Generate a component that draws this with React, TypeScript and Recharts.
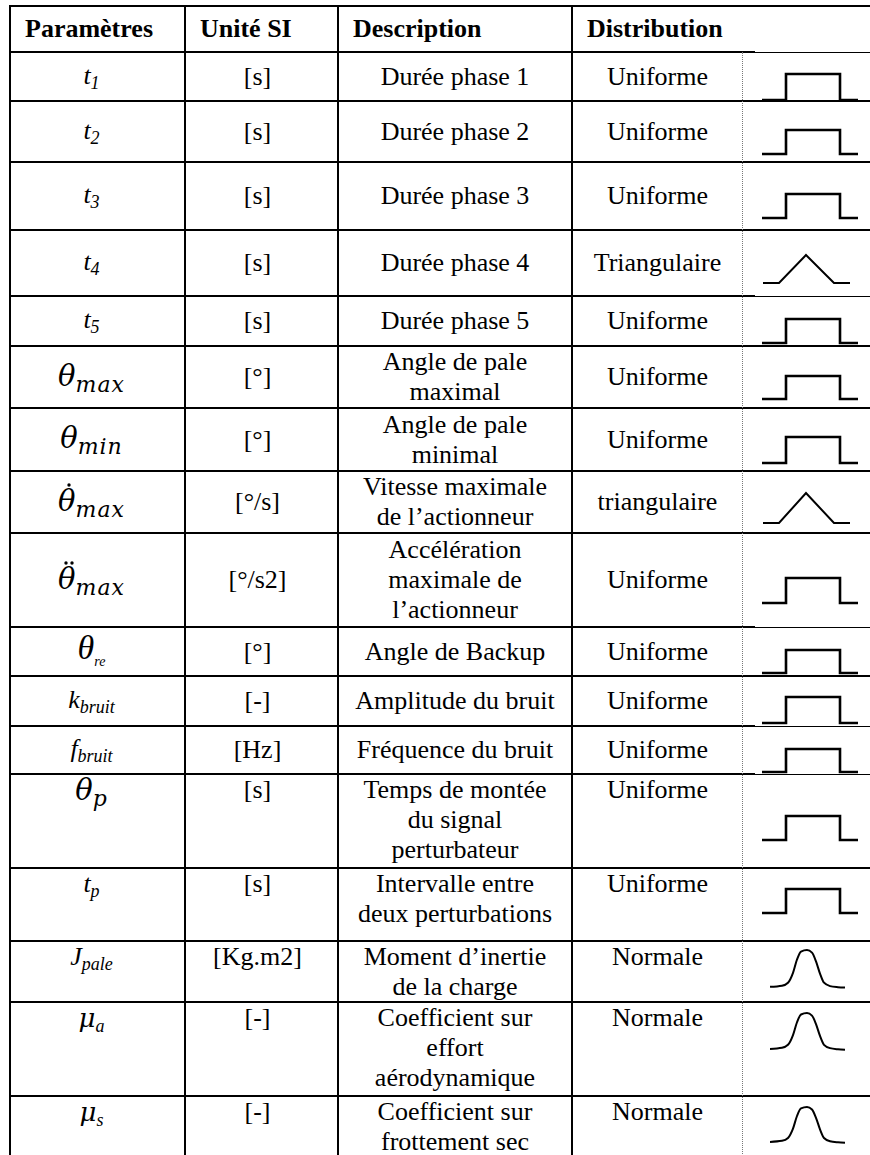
import React from 'react';
import { LineChart, Line, XAxis, YAxis } from 'recharts';

// ---------- DATA ----------
const headers = ['Paramètres', 'Unité SI', 'Description', 'Distribution'];

const symbolBase = ['t', 't', 't', 't', 't', 'θ', 'θ', 'θ', 'θ', 'θ', 'k', 'f', 'θ', 't', 'J', 'μ', 'μ'];
const symbolDots = [0, 0, 0, 0, 0, 0, 0, 1, 2, 0, 0, 0, 0, 0, 0, 0, 0];
const symbolSub = ['1', '2', '3', '4', '5', 'max', 'min', 'max', 'max', 're', 'bruit', 'bruit', 'p', 'p', 'pale', 'a', 's'];
const symbolKind = ['it', 'it', 'it', 'it', 'it', 'math', 'math', 'math', 'math', 'sym', 'it', 'it', 'math', 'it', 'it', 'greek', 'greek'];

const units = ['[s]', '[s]', '[s]', '[s]', '[s]', '[°]', '[°]', '[°/s]', '[°/s2]', '[°]', '[-]', '[Hz]', '[s]', '[s]', '[Kg.m2]', '[-]', '[-]'];

const descriptions: string[][] = [
  ['Durée phase 1'],
  ['Durée phase 2'],
  ['Durée phase 3'],
  ['Durée phase 4'],
  ['Durée phase 5'],
  ['Angle de pale', 'maximal'],
  ['Angle de pale', 'minimal'],
  ['Vitesse maximale', 'de l’actionneur'],
  ['Accélération', 'maximale de', 'l’actionneur'],
  ['Angle de Backup'],
  ['Amplitude du bruit'],
  ['Fréquence du bruit'],
  ['Temps de montée', 'du signal', 'perturbateur'],
  ['Intervalle entre', 'deux perturbations'],
  ['Moment d’inertie', 'de la charge'],
  ['Coefficient sur', 'effort', 'aérodynamique'],
  ['Coefficient sur', 'frottement sec'],
];

const distributions = ['Uniforme', 'Uniforme', 'Uniforme', 'Triangulaire', 'Uniforme', 'Uniforme', 'Uniforme', 'triangulaire', 'Uniforme', 'Uniforme', 'Uniforme', 'Uniforme', 'Uniforme', 'Uniforme', 'Normale', 'Normale', 'Normale'];

// shape samples for the small distribution sketches
const uniformX = [0, 24, 24, 78, 78, 96];
const uniformY = [0, 0, 1, 1, 0, 0];
const triangleX = [0, 16, 43, 71, 87];
const triangleY = [0, 0, 1, 0, 0];
const normalX = [0, 12, 18, 23, 27, 31, 37, 42, 46, 50, 54, 60, 68, 75];
const normalY = [0.03, 0.06, 0.14, 0.4, 0.75, 0.96, 1, 0.93, 0.7, 0.38, 0.14, 0.05, 0.02, 0.01];

// ---------- LAYOUT ----------
const FONT = "'Liberation Serif', 'Times New Roman', serif";
const rowEdges = [6, 52, 101, 162, 230, 296, 346, 408, 471, 533, 627, 676, 726, 774, 868, 941, 1002, 1096, 1160];
const rowAlign = ['c', 'c', 'c', 'c', 'c', 'c', 'c', 'c', 'c', 'c', 'c', 'c', 't', 't', 't', 't', 't'];
const thinRightEdges = [1, 5, 10, 12, 13];
const colEdges = [10, 185, 338, 572, 742, 870];
const iconTops = [74, 130, 194, 255, 319, 376, 437, 493, 578, 650, 697, 749, 816, 889, 950, 1013, 1107];
const iconBottoms = [100, 154, 218, 283, 343, 399, 463, 523, 603, 673, 723, 772, 840, 913, 988, 1050, 1143];

function Sketch({ kind, top, bottom }: { kind: string; top: number; bottom: number }) {
  let xs = uniformX, ys = uniformY, left = 762, sw = 2.6, curve: any = 'linear';
  if (kind === 'Triangulaire' || kind === 'triangulaire') { xs = triangleX; ys = triangleY; left = 763; sw = 2; }
  if (kind === 'Normale') { xs = normalX; ys = normalY; left = 770; sw = 2; curve = 'monotone'; }
  const data = xs.map((x, i) => ({ x, y: ys[i] }));
  const pad = 3;
  const w = xs[xs.length - 1];
  const h = bottom - top;
  return (
    <div style={{ position: 'absolute', left: left - pad, top: top - pad }}>
      <LineChart width={w + 2 * pad} height={h + 2 * pad} data={data} margin={{ top: pad, right: pad, bottom: pad, left: pad }}>
        <XAxis dataKey="x" type="number" domain={[0, w]} hide />
        <YAxis type="number" domain={[0, 1]} hide />
        <Line dataKey="y" type={curve} stroke="#000" strokeWidth={sw} dot={false} strokeLinejoin="miter" strokeLinecap="butt" isAnimationActive={false} />
      </LineChart>
    </div>
  );
}

function Dots({ n }: { n: number }) {
  if (!n) return null;
  const cx = n === 1 ? [10] : [7, 13];
  return (
    <svg width={18} height={6} style={{ position: 'absolute', left: 1, top: -4 }}>
      {cx.map((x) => <circle key={x} cx={x} cy={3} r={1.7} fill="#000" />)}
    </svg>
  );
}

function Sym({ i }: { i: number }) {
  const kind = symbolKind[i];
  const base = symbolBase[i];
  const sub = symbolSub[i];
  if (kind === 'math') {
    return (
      <span style={{ fontFamily: "'DejaVu Serif', serif", fontStyle: 'italic', fontSize: 29, whiteSpace: 'nowrap' }}>
        <span style={{ position: 'relative', display: 'inline-block' }}>
          {base}
          <Dots n={symbolDots[i]} />
        </span>
        <span style={{ fontSize: 22, position: 'relative', top: 6, letterSpacing: 1 }}>{sub}</span>
      </span>
    );
  }
  if (kind === 'sym') {
    return (
      <span style={{ fontFamily: FONT, fontStyle: 'italic', fontSize: 34, whiteSpace: 'nowrap' }}>
        {base}
        <span style={{ fontSize: 14, position: 'relative', top: 7 }}>{sub}</span>
      </span>
    );
  }
  if (kind === 'greek') {
    return (
      <span style={{ fontFamily: "'DejaVu Serif', serif", fontStyle: 'italic', fontSize: 26, whiteSpace: 'nowrap' }}>
        {base}
        <span style={{ fontFamily: FONT, fontSize: 18, position: 'relative', top: 5 }}>{sub}</span>
      </span>
    );
  }
  return (
    <span style={{ fontFamily: FONT, fontStyle: 'italic', fontSize: 26, whiteSpace: 'nowrap' }}>
      {base}
      <span style={{ fontSize: 18, position: 'relative', top: 5 }}>{sub}</span>
    </span>
  );
}

function Cell({ x0, x1, y0, y1, align, children, left }: any) {
  return (
    <div
      style={{
        position: 'absolute', left: x0, top: y0, width: x1 - x0, height: y1 - y0,
        display: 'flex', flexDirection: 'column',
        alignItems: left ? 'flex-start' : 'center',
        justifyContent: align === 't' ? 'flex-start' : 'center',
        paddingLeft: left ? 14 : 0, boxSizing: 'border-box',
        lineHeight: '30px', fontSize: 26, fontFamily: FONT, color: '#000',
      }}
    >
      {children}
    </div>
  );
}

export default function App() {
  const lines: React.ReactNode[] = [];
  const top = rowEdges[0];
  const bottom = rowEdges[rowEdges.length - 1];
  rowEdges.forEach((y, k) => {
    if (k === rowEdges.length - 1) return;
    const thin = thinRightEdges.includes(k);
    lines.push(<div key={'h' + k} style={{ position: 'absolute', left: 9, top: y - 1, width: (thin ? 755 : 870) - 9, height: 2, background: '#000' }} />);
    if (thin) lines.push(<div key={'ht' + k} style={{ position: 'absolute', left: 755, top: y, width: 115, height: 1, background: '#000' }} />);
  });
  colEdges.slice(0, 4).forEach((x, k) => {
    lines.push(<div key={'v' + k} style={{ position: 'absolute', left: x - 1, top: top - 1, width: 2, height: bottom - top + 1, background: '#000' }} />);
  });
  lines.push(<div key="dot" style={{ position: 'absolute', left: 742, top: rowEdges[1], width: 0, height: bottom - rowEdges[1], borderLeft: '1px dotted #777' }} />);

  const cells: React.ReactNode[] = [];
  headers.forEach((h, c) => {
    cells.push(
      <Cell key={'hd' + c} x0={colEdges[c] + 1} x1={c === 3 ? 870 : colEdges[c + 1] - 1} y0={rowEdges[0] + 1} y1={rowEdges[1] - 1} align="c" left>
        <span style={{ fontWeight: 'bold' }}>{h}</span>
      </Cell>
    );
  });

  descriptions.forEach((desc, r) => {
    const y0 = rowEdges[r + 1] + 1;
    const y1 = rowEdges[r + 2] - 1;
    const al = rowAlign[r];
    cells.push(
      <Cell key={'s' + r} x0={colEdges[0] + 1} x1={colEdges[1] - 1} y0={y0} y1={y1} align={al}>
        <div style={{ marginRight: 12 }}><Sym i={r} /></div>
      </Cell>
    );
    cells.push(
      <Cell key={'u' + r} x0={colEdges[1] + 1} x1={colEdges[2] - 1} y0={y0} y1={y1} align={al}>
        <div style={{ marginRight: 8 }}>{units[r]}</div>
      </Cell>
    );
    cells.push(
      <Cell key={'d' + r} x0={colEdges[2] + 1} x1={colEdges[3] - 1} y0={y0} y1={y1} align={al}>
        {desc.map((l, k) => <div key={k} style={{ whiteSpace: 'nowrap' }}>{l}</div>)}
      </Cell>
    );
    cells.push(
      <Cell key={'t' + r} x0={colEdges[3] + 1} x1={colEdges[4]} y0={y0} y1={y1} align={al}>
        <div>{distributions[r]}</div>
      </Cell>
    );
    cells.push(<Sketch key={'k' + r} kind={distributions[r]} top={iconTops[r]} bottom={iconBottoms[r]} />);
  });

  return (
    <div style={{ position: 'absolute', left: 0, top: 0, width: 870, height: 1155, overflow: 'hidden', background: '#fff' }}>
      {lines}
      {cells}
    </div>
  );
}
